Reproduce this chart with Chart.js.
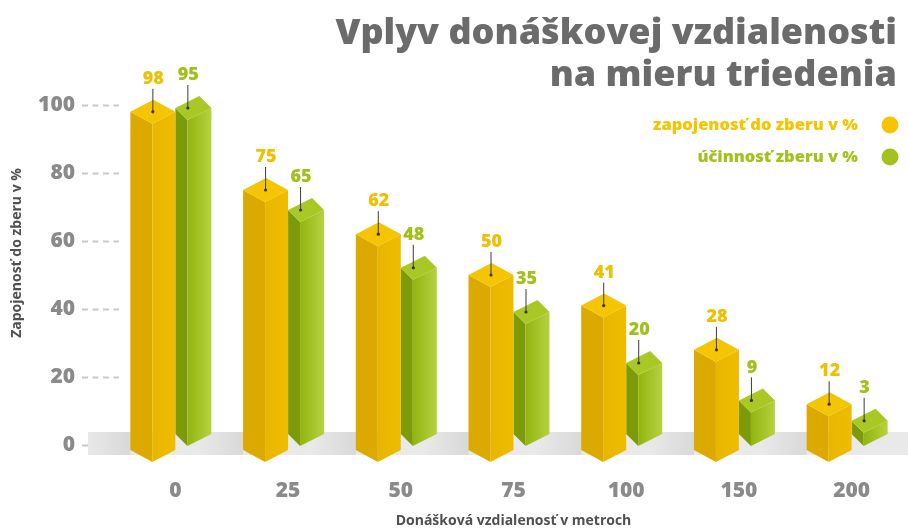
<!DOCTYPE html>
<html><head><meta charset="utf-8">
<script src="https://cdn.jsdelivr.net/npm/chart.js@4.4.1/dist/chart.umd.min.js"></script>
<style>html,body{margin:0;padding:0;background:#fff;overflow:hidden}canvas{display:block}</style>
</head><body>
<canvas id="c" width="908" height="531"></canvas>
<script>
// ---- data ----
const categories = ['0', '25', '50', '75', '100', '150', '200'];
const participation = [98, 75, 62, 50, 41, 28, 12];
const efficiency = [95, 65, 48, 35, 20, 9, 3];
const yTickValues = [0, 20, 40, 60, 80, 100];
const titleLines = ['Vplyv donáškovej vzdialenosti', 'na mieru triedenia'];
const seriesNames = ['zapojenosť do zberu v %', 'účinnosť zberu v %'];
const xTitle = 'Donášková vzdialenosť v metroch';
const yTitle = 'Zapojenosť do zberu v %';

// ---- styles ----
const FONT = "'Open Sans', 'DejaVu Sans', sans-serif";
const boxStyles = [
  {L: 22, R: 23, h: 12, topOff: 0, baseOff: 5, top: '#f4c500', left: '#dba900', right: ['#e8b600', '#efbc00'], label: '#f2bf00'},
  {L: 12, R: 24, h: 12, topOff: -14, baseOff: -11, top: '#a9c824', left: '#7c9b0a', right: ['#93b410', '#b5d23e'], label: '#a0c11a'}
];
const legendColors = ['#f6c400', '#a2c31c'];

function poly(ctx, pts, fill) {
  ctx.beginPath();
  ctx.moveTo(pts[0][0], pts[0][1]);
  for (let i = 1; i < pts.length; i++) ctx.lineTo(pts[i][0], pts[i][1]);
  ctx.closePath();
  ctx.fillStyle = fill;
  ctx.fill();
}

const iso = {
  id: 'iso',
  beforeDatasetsDraw(chart) {
    const ctx = chart.ctx;
    const y0 = chart.scales.y.getPixelForValue(0);
    ctx.save();
    ctx.fillStyle = '#e9e9e9';
    ctx.fillRect(88, y0 - 13, chart.width - 88, 23);
    const m0 = chart.getDatasetMeta(0);
    m0.data.forEach(el => {
      const j = el.x + el.width / 2;
      const xl = j - 45;
      const g = ctx.createLinearGradient(xl - 45, 0, xl, 0);
      g.addColorStop(0, 'rgba(0,0,0,0)');
      g.addColorStop(1, 'rgba(0,0,0,0.07)');
      ctx.fillStyle = g;
      ctx.fillRect(xl - 45, y0 - 13, 45, 23);
    });
    ctx.restore();
  },
  afterDatasetsDraw(chart) {
    const ctx = chart.ctx;
    const yS = chart.scales.y;
    const y0 = yS.getPixelForValue(0);
    const m0 = chart.getDatasetMeta(0), m1 = chart.getDatasetMeta(1);
    ctx.save();
    const labels = [];
    m0.data.forEach((el0, i) => {
      const j = el0.x + el0.width / 2;
      [1, 0].forEach(d => {
        const s = boxStyles[d];
        const el = d === 0 ? el0 : m1.data[i];
        const fx = d === 0 ? j - s.R : j + s.L;
        const yt = el.y + s.topOff;
        const yb = y0 + s.baseOff;
        const h = s.h;
        poly(ctx, [[fx - s.L, yt], [fx, yt + h], [fx, yb + h], [fx - s.L, yb]], s.left);
        const g = ctx.createLinearGradient(fx, 0, fx + s.R, 0);
        g.addColorStop(0, s.right[0]);
        g.addColorStop(1, s.right[1]);
        poly(ctx, [[fx, yt + h], [fx + s.R, yt], [fx + s.R, yb], [fx, yb + h]], g);
        poly(ctx, [[fx - s.L, yt], [fx - s.L + s.R, yt - h], [fx + s.R, yt], [fx, yt + h]], s.top);
        const v = chart.data.datasets[d].data[i];
        labels.push({x: fx, y: yt, v, c: s.label});
      });
    });
    labels.forEach(l => {
      ctx.strokeStyle = '#3c3c3c';
      ctx.lineWidth = 1;
      ctx.beginPath();
      ctx.moveTo(l.x + 0.5, l.y);
      ctx.lineTo(l.x + 0.5, l.y - 23);
      ctx.stroke();
      ctx.fillStyle = '#333';
      ctx.beginPath();
      ctx.arc(l.x + 0.5, l.y, 1.6, 0, Math.PI * 2);
      ctx.fill();
      ctx.fillStyle = l.c;
      ctx.font = `800 18px ${FONT}`;
      ctx.textAlign = 'center';
      ctx.textBaseline = 'middle';
      ctx.fillText(String(l.v), l.x + 1, l.y - 33);
    });
    ctx.restore();
  },
  afterDraw(chart) {
    const ctx = chart.ctx;
    ctx.save();
    ctx.fillStyle = '#6b6b6b';
    ctx.font = `800 36px ${FONT}`;
    ctx.textAlign = 'right';
    ctx.textBaseline = 'alphabetic';
    ctx.fillText(titleLines[0], 897, 44);
    ctx.fillText(titleLines[1], 897, 86);
    ctx.font = `800 16.5px ${FONT}`;
    ctx.textBaseline = 'middle';
    seriesNames.forEach((n, k) => {
      const y = 125 + k * 32;
      ctx.fillStyle = legendColors[k];
      ctx.fillText(n, 858, y);
      ctx.beginPath();
      ctx.arc(890, y, 8.5, 0, Math.PI * 2);
      ctx.fill();
    });
    // y-axis title
    ctx.translate(17, 253);
    ctx.rotate(-Math.PI / 2);
    ctx.textAlign = 'center';
    ctx.fillStyle = '#505050';
    ctx.font = `700 14px ${FONT}`;
    ctx.fillText(yTitle, 0, 0);
    ctx.restore();
  }
};

new Chart(document.getElementById('c'), {
  type: 'bar',
  data: {
    labels: categories,
    datasets: [
      {label: seriesNames[0], data: participation, backgroundColor: 'rgba(0,0,0,0)', borderWidth: 0},
      {label: seriesNames[1], data: efficiency, backgroundColor: 'rgba(0,0,0,0)', borderWidth: 0}
    ]
  },
  options: {
    responsive: false,
    animation: false,
    devicePixelRatio: 1,
    categoryPercentage: 0.72,
    barPercentage: 1,
    layout: {padding: {top: 105, left: 0, right: 0, bottom: 0}},
    plugins: {legend: {display: false}, title: {display: false}, tooltip: {enabled: false}},
    scales: {
      x: {
        grid: {display: false, drawTicks: false},
        border: {display: false},
        ticks: {font: {family: FONT, weight: '800', size: 21}, color: '#8a8a8a', padding: 33},
        title: {display: true, text: xTitle, font: {family: FONT, weight: '700', size: 14}, color: '#505050', padding: {top: 0, bottom: 2}},
        afterFit(s) { s.height = 86; }
      },
      y: {
        min: 0, max: 100,
        afterBuildTicks(s) { s.ticks = yTickValues.map(v => ({value: v})); },
        grid: {drawOnChartArea: false, drawTicks: true, tickLength: 37, tickColor: '#c8c8c8', tickWidth: 2, tickBorderDash: [6, 4.5]},
        border: {display: false},
        ticks: {font: {family: FONT, weight: '800', size: 21}, color: '#8a8a8a', padding: 7},
        title: {display: false},
        afterFit(s) { s.width = 119; }
      }
    }
  },
  plugins: [iso]
});
</script>
</body></html>
